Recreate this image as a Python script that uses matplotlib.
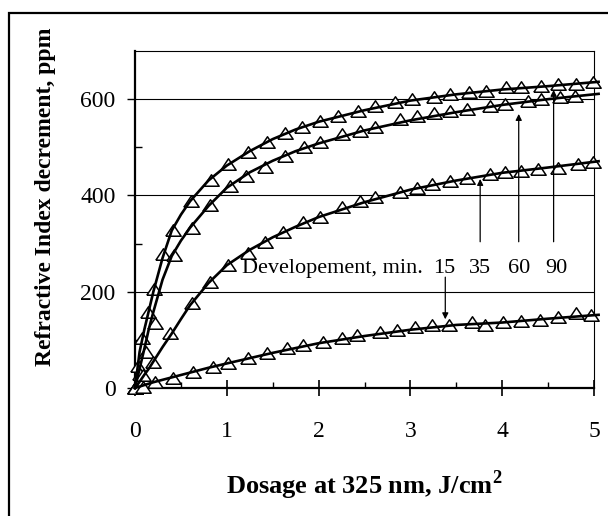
import matplotlib
matplotlib.use("Agg")
import matplotlib.pyplot as plt
from matplotlib.patches import Rectangle

plt.rcParams['font.family'] = ['Liberation Serif', 'DejaVu Serif']
plt.rcParams['mathtext.fontset'] = 'custom'
plt.rcParams['mathtext.rm'] = 'Liberation Serif'
plt.rcParams['mathtext.bf'] = 'Liberation Serif:bold'

# measured points (triangles)
x90 = [0, 0.03, 0.08, 0.14, 0.21, 0.31, 0.41, 0.61, 0.83, 1.01, 1.23, 1.44, 1.63, 1.82, 2.01,
       2.21, 2.43, 2.61, 2.83, 3.02, 3.26, 3.43, 3.64, 3.82, 4.04, 4.20, 4.42, 4.61, 4.80, 4.99]
y90 = [0, 45, 104, 158, 206, 279, 329, 388, 433, 465, 490, 510, 529, 542, 554,
       565, 575, 585, 594, 600, 604, 610, 615, 617, 625, 625, 627, 631, 631, 635]

x60 = [0, 0.05, 0.12, 0.22, 0.42, 0.62, 0.82, 1.03, 1.21, 1.42, 1.63, 1.84, 2.02, 2.25,
       2.45, 2.61, 2.89, 3.07, 3.26, 3.43, 3.62, 3.87, 4.03, 4.28, 4.42, 4.63, 4.79]
y60 = [0, 30, 75, 135, 277, 333, 381, 419, 440, 460, 481, 500, 510, 527,
       533, 542, 558, 565, 572, 575, 579, 585, 590, 596, 600, 604, 606]

x35 = [0, 0.09, 0.2, 0.38, 0.62, 0.82, 1.01, 1.23, 1.42, 1.61, 1.83, 2.01, 2.25, 2.45,
       2.61, 2.89, 3.07, 3.24, 3.43, 3.62, 3.87, 4.03, 4.20, 4.39, 4.61, 4.83, 4.99]
y35 = [0, 27, 54, 115, 177, 221, 256, 281, 304, 323, 344, 356, 375, 388,
       396, 408, 416, 423, 429, 437, 444, 448, 450, 454, 458, 465, 469]

x15 = [0, 0.09, 0.22, 0.41, 0.63, 0.85, 1.01, 1.23, 1.44, 1.66, 1.83, 2.05, 2.25, 2.42,
       2.67, 2.85, 3.05, 3.24, 3.42, 3.67, 3.81, 4.01, 4.20, 4.41, 4.61, 4.80, 4.97]
y15 = [0, 2, 13, 21, 33, 44, 52, 63, 73, 83, 90, 96, 104, 110,
       117, 121, 127, 131, 131, 137, 131, 137, 140, 142, 148, 156, 152]

# fitted curves
xfit = [0, 0.05, 0.1, 0.15, 0.2, 0.3, 0.4, 0.5, 0.6, 0.8, 1.0, 1.25, 1.5, 1.75, 2.0,
        2.5, 3.0, 3.5, 4.0, 4.5, 5.05]
fit90 = [0, 75, 120, 160, 200, 270, 327, 360, 388, 431, 462, 492, 517, 537, 553,
         577, 597, 610, 620, 627, 636]
fit60 = [0, 40, 80, 122, 158, 225, 274, 306, 333, 378, 416, 448, 472, 492, 508,
         535, 556, 573, 588, 600, 611]
fit35 = [0, 13, 27, 40, 55, 85, 113, 143, 172, 218, 255, 287, 313, 335, 355,
         386, 412, 431, 447, 458, 471]
fit15 = [0, 3, 6, 9, 12, 17, 22, 27, 32, 42, 51, 62, 73, 83, 93,
         108, 121, 131, 136, 144, 152]

labels = ['15', '35', '60', '90']
label_x = [3.37, 3.76, 4.18, 4.59]
arrow_x = [3.38, 3.76, 4.18, 4.56]
arrow_from = [236, 298, 298, 298]
arrow_tip = [137, 440, 575, 625]

fig = plt.figure(figsize=(6.08, 5.16), dpi=100)
fig.patches.append(Rectangle((9 / 608, -0.1), 1.2, 1.1 - 13 / 516, transform=fig.transFigure,
                             fill=False, edgecolor='black', linewidth=1.6))
ax = fig.add_axes([135 / 608, 1 - 388 / 516, 459 / 608, 337 / 516])

tri = [(-1, -0.75), (1, -0.75), (0, 0.75), (-1, -0.75)]
for xs, ys in [(x90, y90), (x60, y60), (x35, y35), (x15, y15)]:
    ax.plot(xs, ys, linestyle='none', marker=tri, markersize=11, markerfacecolor='white',
            markeredgecolor='black', markeredgewidth=1.1, clip_on=False, zorder=3)
for fy in [fit90, fit60, fit35, fit15]:
    ax.plot(xfit, fy, color='black', linewidth=1.9, clip_on=False, zorder=4)

ax.set_xlim(0, 5)
ax.set_ylim(0, 700)
ax.set_xticks([0, 1, 2, 3, 4, 5])
ax.set_xticks([0.5, 1.5, 2.5, 3.5, 4.5], minor=True)
ax.set_yticks([0, 200, 400, 600])
ax.set_yticks([100, 300, 500], minor=True)
for yv in [200, 400, 600]:
    ax.axhline(yv, color='black', linewidth=0.8, zorder=1)

ax.tick_params(axis='x', which='major', direction='inout', length=12, width=1.2, pad=18, labelsize=17)
ax.tick_params(axis='x', which='minor', direction='in', length=4.5, width=1.0)
ax.tick_params(axis='y', which='major', direction='out', length=6, width=1.0, pad=8, labelsize=17)
ax.tick_params(axis='y', which='minor', direction='in', length=5, width=1.0)
for s in ['left', 'bottom']:
    ax.spines[s].set_linewidth(1.6)
for s in ['top', 'right']:
    ax.spines[s].set_linewidth(0.8)

ax.text(3.14, 249, 'Developement, min.', ha='right', va='center', fontsize=16)
for lab, lx, axx, a0, tip in zip(labels, label_x, arrow_x, arrow_from, arrow_tip):
    ax.text(lx, 249, lab, ha='center', va='center', fontsize=16)
    ax.annotate('', xy=(axx, tip), xytext=(axx, a0),
                arrowprops=dict(arrowstyle='-|>', color='black', lw=0.9, mutation_scale=9))

fig.text(364 / 608, 1 - 485 / 516, r'Dosage at 325 nm, J/cm$^{\mathbf{2}}$',
         ha='center', va='center', fontsize=19, fontweight='bold')
fig.text(46 / 608, 1 - 197 / 516, 'Refractive Index decrement, ppm', rotation=90,
         ha='center', va='center', fontsize=17, fontweight='bold')

fig.savefig('out.png', dpi=100)
